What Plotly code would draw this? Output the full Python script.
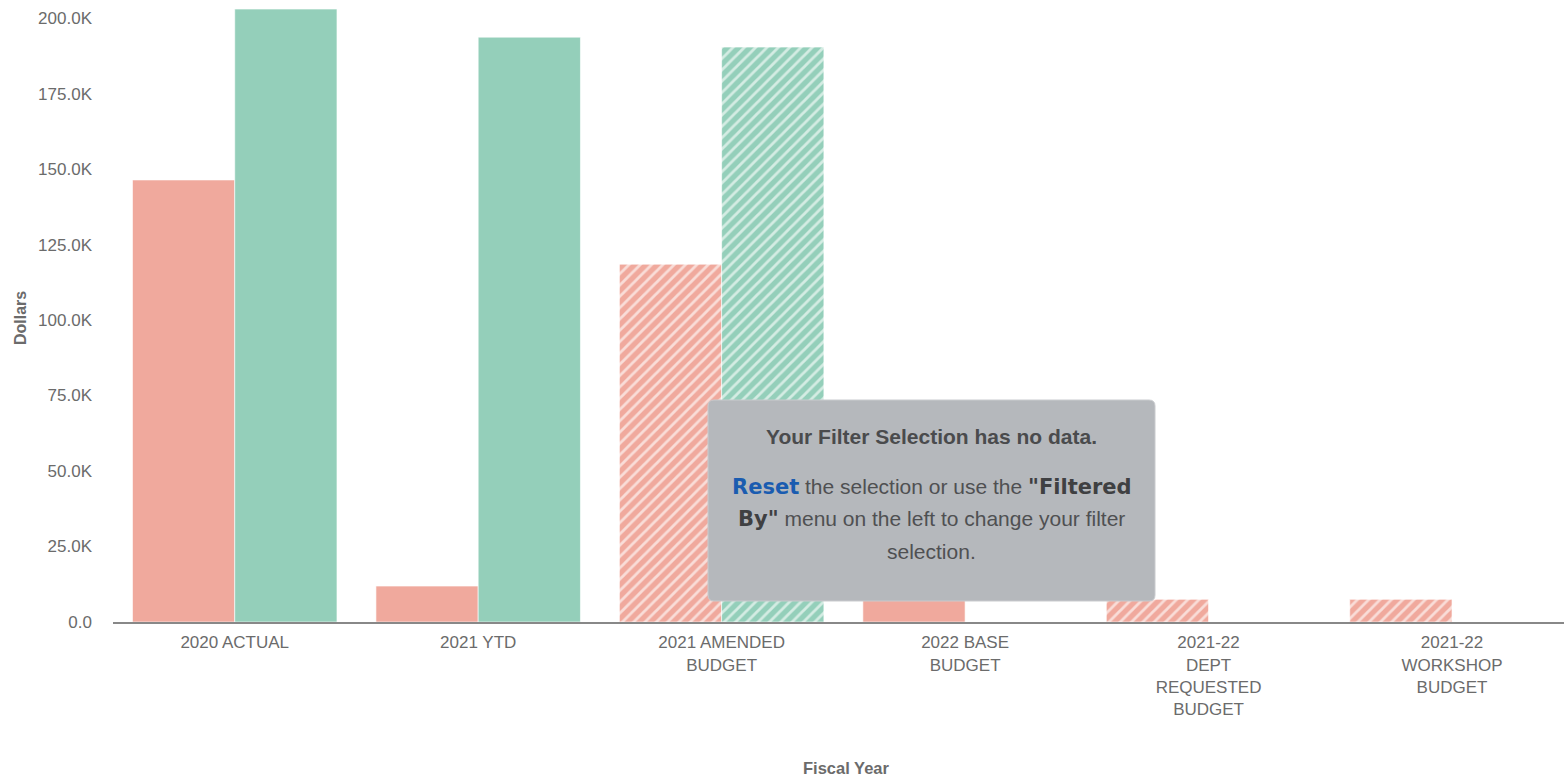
import plotly.graph_objects as go

categories = ["2020 ACTUAL", "2021 YTD", "2021 AMENDED<br>BUDGET", "2022 BASE<br>BUDGET",
              "2021-22<br>DEPT<br>REQUESTED<br>BUDGET", "2021-22<br>WORKSHOP<br>BUDGET"]
series_a = [146400, 11900, 118500, 7500, 7500, 7500]
series_b = [203000, 193700, 190400, None, None, None]
hatch_a = ["", "", "/", "", "/", "/"]
hatch_b = ["", "", "/", "", "", ""]
y_ticks = [0, 25000, 50000, 75000, 100000, 125000, 150000, 175000, 200000]
y_tick_text = ["0.0", "25.0K", "50.0K", "75.0K", "100.0K", "125.0K", "150.0K", "175.0K", "200.0K"]

RED = "#F0A99D"
GREEN = "#94CFBA"
FONT = "Liberation Sans, Arial, sans-serif"
GREY = "#6B6B6B"

W, H = 1564, 780
L, T, B = 113, 0, 158
PW, PH = W - L, H - T - B


def px(x):
    return (x - L) / PW


def py(y):
    return (T + PH - y) / PH


def pattern(shapes):
    return dict(shape=shapes, fgcolor="white", fgopacity=0.6, size=8, solidity=0.35)


fig = go.Figure()
fig.add_trace(go.Bar(x=categories, y=series_a, name="A",
                     marker=dict(color=RED, line=dict(color="rgba(255,255,255,0.6)", width=1),
                                 pattern=pattern(hatch_a)),
                     hoverinfo="skip"))
fig.add_trace(go.Bar(x=categories, y=series_b, name="B",
                     marker=dict(color=GREEN, line=dict(color="rgba(255,255,255,0.6)", width=1),
                                 pattern=pattern(hatch_b)),
                     hoverinfo="skip"))

# tooltip-like box
x0, x1, y0, y1, r = 708, 1155, 400, 601, 6
path = (f"M {px(x0 + r)},{py(y0)} L {px(x1 - r)},{py(y0)} Q {px(x1)},{py(y0)} {px(x1)},{py(y0 + r)} "
        f"L {px(x1)},{py(y1 - r)} Q {px(x1)},{py(y1)} {px(x1 - r)},{py(y1)} "
        f"L {px(x0 + r)},{py(y1)} Q {px(x0)},{py(y1)} {px(x0)},{py(y1 - r)} "
        f"L {px(x0)},{py(y0 + r)} Q {px(x0)},{py(y0)} {px(x0 + r)},{py(y0)} Z")
fig.add_shape(type="path", path=path, xref="paper", yref="paper",
              fillcolor="#B5B8BC", line=dict(color="#C9CBCE", width=1), layer="above")

cx = px((x0 + x1) / 2)
emph = "font-family:DejaVu Sans, Verdana, sans-serif"
lines = [
    (436, "<b>Your Filter Selection has no data.</b>", 21, "#4A4B4D"),
    (487, f"<span style=\"color:#1A5CB0;{emph}\"><b>Reset</b></span> the selection or use the "
          f"<span style=\"color:#3F4042;{emph}\"><b>\"Filtered</b></span>", 21, "#4F5052"),
    (519, f"<span style=\"color:#3F4042;{emph}\"><b>By\"</b></span> menu on the left to change your filter",
     21, "#4F5052"),
    (551, "selection.", 21, "#4F5052"),
]
for yy, txt, sz, col in lines:
    fig.add_annotation(x=cx, y=py(yy), xref="paper", yref="paper", text=txt, showarrow=False,
                       xanchor="center", yanchor="middle", font=dict(family=FONT, size=sz, color=col))

# axis titles
fig.add_annotation(x=px(846), y=py(768), xref="paper", yref="paper", text="<b>Fiscal Year</b>",
                   showarrow=False, xanchor="center", yanchor="middle",
                   font=dict(family=FONT, size=16.5, color=GREY))
fig.add_annotation(x=px(20), y=py(318), xref="paper", yref="paper", text="<b>Dollars</b>",
                   showarrow=False, xanchor="center", yanchor="middle", textangle=-90,
                   font=dict(family=FONT, size=16, color=GREY))

fig.update_layout(
    width=W, height=H,
    margin=dict(l=L, r=0, t=T, b=B, pad=0),
    paper_bgcolor="white", plot_bgcolor="white",
    barmode="group", bargap=0.16, bargroupgap=0,
    showlegend=False,
    font=dict(family=FONT, color=GREY),
    xaxis=dict(range=[-0.5, 5.46], showgrid=False, zeroline=False, showline=True,
               linecolor="#888888", linewidth=2, ticks="", tickfont=dict(size=17, color=GREY),
               ticklabelstandoff=4, fixedrange=True),
    yaxis=dict(range=[0, 206000], showgrid=False, zeroline=False, showline=False,
               tickvals=y_ticks, ticktext=y_tick_text, tickfont=dict(size=17, color=GREY),
               ticklabelstandoff=20, fixedrange=True),
)
fig.update_xaxes(automargin=False)
fig.update_yaxes(automargin=False)

fig.write_html("out.html", config={"displayModeBar": False},
               post_script="document.body.style.margin='0px';")
